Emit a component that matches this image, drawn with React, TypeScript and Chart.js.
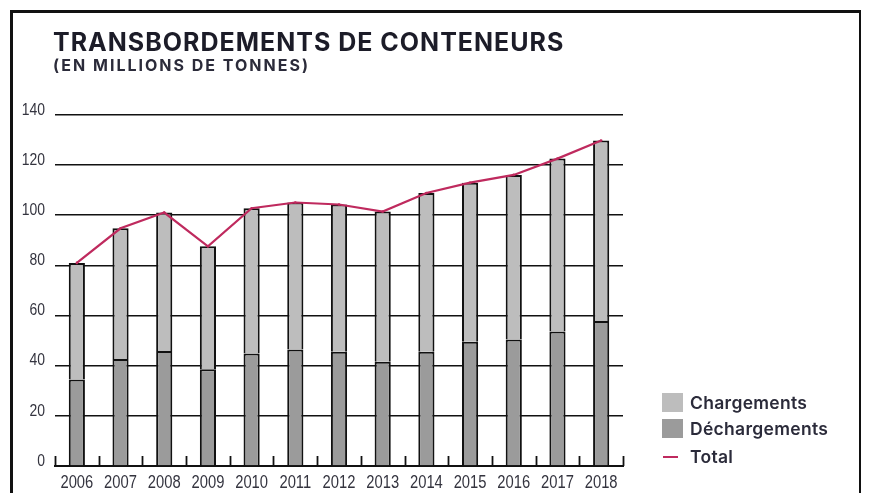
import React, { useEffect, useRef } from "react";
import { Chart, registerables } from "chart.js";

Chart.register(...registerables);

const years = ["2006", "2007", "2008", "2009", "2010", "2011", "2012", "2013", "2014", "2015", "2016", "2017", "2018"];
const dechargements = [34.5, 42.7, 45.9, 38.6, 44.9, 46.5, 45.6, 41.6, 45.6, 49.6, 50.5, 53.6, 57.8];
const chargements = [46.5, 52.1, 55.2, 49.0, 57.9, 58.6, 58.7, 59.9, 63.3, 63.4, 65.6, 69.0, 72.0];
const totals = [81.0, 94.8, 101.1, 87.6, 102.8, 105.1, 104.3, 101.5, 108.9, 113.0, 116.1, 122.6, 129.8];
const yTicks = [0, 20, 40, 60, 80, 100, 120, 140];

const TITLE = "TRANSBORDEMENTS DE CONTENEURS";
const SUBTITLE = "(EN MILLIONS DE TONNES)";
const LABEL_CHARG = "Chargements";
const LABEL_DECH = "Déchargements";
const LABEL_TOTAL = "Total";

const LIGHT = "#bdbdbd";
const DARK = "#9b9b9b";
const LINE = "#bf2a5e";
const INK = "#111111";
const TICK_COLOR = "#34343f";
const TICK_FONT = "'Liberation Sans', Arial, sans-serif";
const HEAD_FONT = "Inter, 'Open Sans', sans-serif";
const NARROW = 0.82;

// Draws condensed tick labels at the scales' own tick positions, plus the short
// upward tick marks at category boundaries.
const axisDecor = {
  id: "axisDecor",
  afterDraw(chart: any) {
    const xs = chart.scales.x;
    const ys = chart.scales.y;
    const ctx = chart.ctx;
    const y0 = ys.getPixelForValue(0);
    const step = xs.getPixelForValue(1) - xs.getPixelForValue(0);
    const start = xs.getPixelForValue(0) - step / 2;
    ctx.save();
    ctx.strokeStyle = INK;
    ctx.lineWidth = 1.8;
    for (let i = 0; i <= years.length; i++) {
      const px = Math.round(start + i * step) + 0.5;
      ctx.beginPath();
      ctx.moveTo(px, y0);
      ctx.lineTo(px, y0 - 10);
      ctx.stroke();
    }
    ctx.fillStyle = TICK_COLOR;
    // y labels
    ctx.font = `17px ${TICK_FONT}`;
    ctx.textAlign = "right";
    ctx.textBaseline = "middle";
    ys.ticks.forEach((t: any) => {
      const py = ys.getPixelForValue(t.value) - 5;
      ctx.save();
      ctx.translate(chart.chartArea.left - 10, py);
      ctx.scale(NARROW, 1);
      ctx.fillText(String(t.value), 0, 0);
      ctx.restore();
    });
    // x labels
    ctx.font = `18px ${TICK_FONT}`;
    ctx.textAlign = "center";
    ctx.textBaseline = "middle";
    years.forEach((lab, i) => {
      const px = xs.getPixelForValue(i);
      ctx.save();
      ctx.translate(px, chart.chartArea.bottom + 17);
      ctx.scale(NARROW, 1);
      ctx.fillText(lab, 0, 0);
      ctx.restore();
    });
    ctx.restore();
  },
};

function ChartCanvas() {
  const ref = useRef<HTMLCanvasElement | null>(null);
  useEffect(() => {
    if (!ref.current) return;
    const chart = new Chart(ref.current, {
      type: "bar",
      data: {
        labels: years,
        datasets: [
          {
            type: "line",
            label: LABEL_TOTAL,
            data: totals,
            borderColor: LINE,
            backgroundColor: LINE,
            borderWidth: 2.2,
            pointRadius: 1.3,
            pointBackgroundColor: LINE,
            pointBorderWidth: 0,
            tension: 0,
            stack: "total",
            order: 0,
          } as any,
          {
            type: "bar",
            label: LABEL_DECH,
            data: dechargements,
            backgroundColor: DARK,
            borderColor: INK,
            borderWidth: 2,
            stack: "bars",
            order: 1,
          },
          {
            type: "bar",
            label: LABEL_CHARG,
            data: chargements,
            backgroundColor: LIGHT,
            borderColor: INK,
            borderWidth: 2,
            stack: "bars",
            order: 2,
          },
        ],
      },
      options: {
        responsive: false,
        animation: false,
        devicePixelRatio: 1,
        layout: { padding: { left: 0, right: 238, top: 107, bottom: 0 } },
        datasets: { bar: { categoryPercentage: 1, barPercentage: 0.37 } },
        plugins: { legend: { display: false }, tooltip: { enabled: false }, title: { display: false } },
        scales: {
          x: {
            stacked: true,
            offset: true,
            grid: { display: false, drawTicks: false },
            border: { display: true, color: INK, width: 2 },
            ticks: { display: false },
            afterFit: (s: any) => {
              s.height = 27;
            },
          },
          y: {
            stacked: true,
            min: 0,
            max: 140,
            afterBuildTicks: (s: any) => {
              s.ticks = yTicks.map((v) => ({ value: v }));
            },
            grid: { color: INK, lineWidth: 1.6, drawTicks: false },
            border: { display: false },
            ticks: { display: false },
            afterFit: (s: any) => {
              s.width = 47;
            },
          },
        },
      },
      plugins: [axisDecor],
    });
    return () => chart.destroy();
  }, []);
  return <canvas ref={ref} width={853} height={485} style={{ position: "absolute", left: 0, top: 0, width: 853, height: 485 }} />;
}

export default function App() {
  const legendRow = (top: number): React.CSSProperties => ({
    position: "absolute",
    left: 654,
    top,
    height: 19,
    display: "flex",
    alignItems: "center",
    whiteSpace: "nowrap",
  });
  const legendText: React.CSSProperties = {
    fontFamily: HEAD_FONT,
    fontWeight: 600,
    fontSize: 17.5,
    letterSpacing: 0.3,
    lineHeight: 1,
    color: "#2b2b3a",
    marginLeft: 7,
  };
  return (
    <div style={{ position: "relative", width: 853, height: 485, overflow: "hidden", background: "#fff" }}>
      <div style={{ position: "absolute", left: 2, top: 2, width: 846, height: 600, border: `3px solid ${INK}`, boxSizing: "content-box" }} />
      <ChartCanvas />
      <div
        style={{
          position: "absolute",
          left: 45,
          top: 22,
          fontFamily: HEAD_FONT,
          fontWeight: 700,
          fontSize: 25,
          letterSpacing: 1,
          lineHeight: 1,
          color: "#1c1c28",
          whiteSpace: "nowrap",
        }}
      >
        {TITLE}
      </div>
      <div
        style={{
          position: "absolute",
          left: 45,
          top: 49,
          fontFamily: HEAD_FONT,
          fontWeight: 700,
          fontSize: 16,
          letterSpacing: 2,
          lineHeight: 1,
          color: "#2b2b3a",
          whiteSpace: "nowrap",
        }}
      >
        {SUBTITLE}
      </div>
      <div style={legendRow(385)}>
        <span style={{ display: "inline-block", width: 21, height: 19, background: LIGHT }} />
        <span style={legendText}>{LABEL_CHARG}</span>
      </div>
      <div style={legendRow(411)}>
        <span style={{ display: "inline-block", width: 21, height: 19, background: DARK }} />
        <span style={legendText}>{LABEL_DECH}</span>
      </div>
      <div style={legendRow(439)}>
        <span style={{ display: "inline-block", width: 21, height: 19, position: "relative" }}>
          <span style={{ position: "absolute", left: 1, top: 8.5, width: 15, height: 2, background: LINE }} />
        </span>
        <span style={legendText}>{LABEL_TOTAL}</span>
      </div>
    </div>
  );
}
